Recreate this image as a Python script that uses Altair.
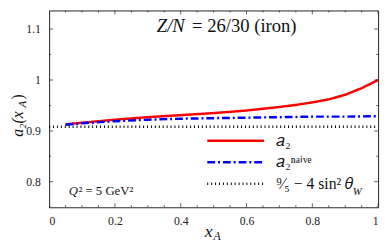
import altair as alt
import pandas as pd

# ---- data ----
series = ["a2", "naive", "sm"]
x_a2 = [0.05, 0.1, 0.2, 0.3, 0.4, 0.5, 0.6, 0.7, 0.75, 0.8, 0.85, 0.9, 0.95, 1.0]
y_a2 = [0.913, 0.916, 0.922, 0.927, 0.931, 0.935, 0.940, 0.947, 0.951, 0.956, 0.962, 0.971, 0.984, 1.0]
x_naive = [0.05, 0.1, 0.2, 0.3, 0.4, 0.5, 0.6, 0.7, 0.8, 0.9, 1.0]
y_naive = [0.912, 0.915, 0.919, 0.922, 0.924, 0.925, 0.926, 0.927, 0.928, 0.928, 0.929]
x_sm = [0.0, 1.0]
y_sm = [0.908, 0.908]

x_ticks = [round(i * 0.05, 2) for i in range(21)]
x_major = [0.0, 0.2, 0.4, 0.6, 0.8, 1.0]
y_ticks = [round(0.75 + i * 0.05, 2) for i in range(8)]
y_major = [0.8, 0.9, 1.0, 1.1]

FONT = "Liberation Serif"
W, H = 336, 201
XD = [0.0, 1.0]
YD = [0.75, 0.75 + 0.1 * H / 52.0]

df = pd.concat([
    pd.DataFrame({"x": x_a2, "y": y_a2, "s": "a2"}),
    pd.DataFrame({"x": x_naive, "y": y_naive, "s": "naive"}),
    pd.DataFrame({"x": x_sm, "y": y_sm, "s": "sm"}),
], ignore_index=True)

xs = alt.Scale(domain=XD, nice=False, zero=False)
ys = alt.Scale(domain=YD, nice=False, zero=False)

xaxis = alt.Axis(
    values=x_major, title=None, grid=False, domain=False, ticks=False,
    labelExpr="format(datum.value, '~g')",
    labelFont=FONT, labelFontSize=12, labelColor="#222", labelPadding=9,
)
yaxis = alt.Axis(
    values=y_major, title=None, grid=False, domain=False, ticks=False,
    labelExpr="format(datum.value, '~g')",
    labelFont=FONT, labelFontSize=12, labelColor="#222", labelPadding=9,
)

# long horizontal legend sample drawn as a custom symbol path (scaled by sqrt(size)/2 = 2)
SAMPLE = "M-1.75,0H27.25"
legend = alt.Legend(
    title=None, orient="none", legendX=157, legendY=125, padding=0,
    rowPadding=6, labelOffset=59, symbolSize=16, symbolType=SAMPLE,
    labelFont=FONT, labelFontSize=16, labelColor="#111", labelLimit=0,
    labelExpr="datum.value == 'a2' ? '𝑎₂' : datum.value == 'naive' ? '𝑎₂ⁿᵃⁱᵛᵉ' : '⁹⁄₅ − 4 sin² 𝜃'",
)

lines = alt.Chart(df).mark_line(clip=True).encode(
    x=alt.X("x:Q", scale=xs, axis=xaxis),
    y=alt.Y("y:Q", scale=ys, axis=yaxis),
    color=alt.Color("s:N", scale=alt.Scale(domain=series, range=["#ff0000", "#0000ff", "#000000"]), legend=legend),
    strokeDash=alt.StrokeDash("s:N", scale=alt.Scale(domain=series, range=[[1, 0], [8, 3, 2, 3], [1, 3]]), legend=legend),
    strokeWidth=alt.StrokeWidth("s:N", scale=alt.Scale(domain=series, range=[2.5, 2.5, 1.2]), legend=legend),
)

# inward ticks: centred ticks clipped to the plot area (half shows)
xt = pd.DataFrame({"v": x_ticks, "len": [8 if v in x_major else 4 for v in x_ticks]})
yt = pd.DataFrame({"v": y_ticks, "len": [8 if v in y_major else 4 for v in y_ticks]})

def xtick(edge):
    return alt.Chart(xt).mark_tick(clip=True, orient="vertical", thickness=1, color="#222").encode(
        x=alt.X("v:Q", scale=xs), y=alt.datum(edge), size=alt.Size("len:Q", scale=None))

def ytick(edge):
    return alt.Chart(yt).mark_tick(clip=True, orient="horizontal", thickness=1, color="#222").encode(
        y=alt.Y("v:Q", scale=ys), x=alt.datum(edge), size=alt.Size("len:Q", scale=None))

ticks = [xtick(YD[0]), xtick(YD[1]), ytick(XD[0]), ytick(XD[1])]

one = pd.DataFrame({"k": [0]})

def txt(t, x, y, size, style="normal", angle=0, align="left", baseline="alphabetic"):
    kw = dict(font=FONT, fontSize=size, fontStyle=style, align=align, baseline=baseline, color="#111")
    if angle:
        kw["angle"] = angle
    return alt.Chart(one).mark_text(**kw).encode(x=alt.value(x), y=alt.value(y), text=alt.value(t))

texts = [
    txt("Z/N", 110, 22, 19, "italic"),
    txt("= 26/30  (iron)", 146, 22, 19),
    txt("Q", 20, 188, 13, "italic"),
    txt("² = 5 GeV²", 30, 188, 13),
    txt("x", 159, 231, 18, "italic"),
    txt("A", 168, 234, 12, "italic"),
    txt("a₂(x", -27, 129, 16, "italic", angle=270),
    txt("A", -24, 99, 11, "italic", angle=270),
    txt(")", -27, 91, 16, "normal", angle=270),
    txt("W", 310, 188, 11, "italic"),
]

chart = alt.layer(lines, *ticks, *texts).properties(
    width=W, height=H,
    autosize=alt.AutoSizeParams(type="none"),
    padding={"left": 42, "top": 0, "right": 5, "bottom": 36},
).configure_view(stroke="#222", strokeWidth=1)

chart.save("out.html", embed_options={"renderer": "svg", "actions": False})
